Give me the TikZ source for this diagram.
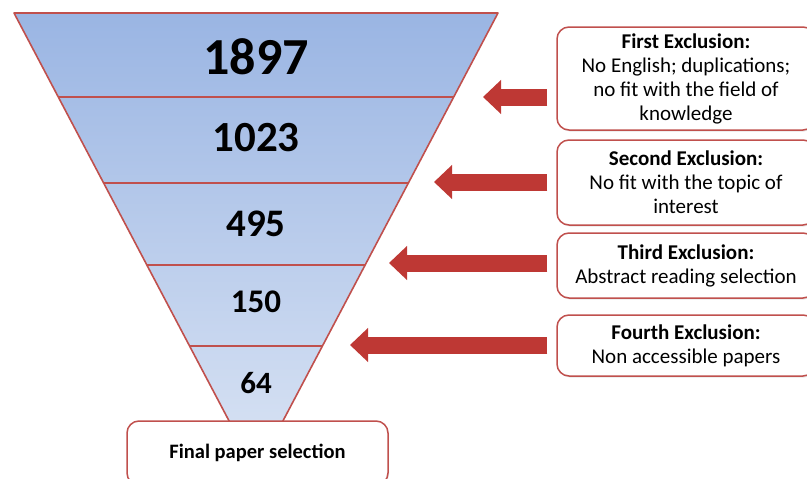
\documentclass[tikz,border=0pt]{standalone}
\usepackage{fontspec}
\setmainfont{Carlito}
\usepackage{xcolor}
\usetikzlibrary{positioning,calc,arrows.meta,shadows}

\definecolor{funneltop}{RGB}{154,181,227}
\definecolor{funnelbot}{RGB}{218,228,244}
\definecolor{edgered}{RGB}{192,80,77}
\definecolor{arrowred}{RGB}{190,56,52}

\begin{document}
\begin{tikzpicture}[x=1pt,y=-1pt,
    sepline/.style={draw=edgered, line width=1.6pt},
    layer/.style={font=\bfseries\fontsize{#1}{#1}\selectfont, inner sep=0pt},
    exclbox/.style={draw=edgered, line width=1.5pt, rounded corners=12pt, fill=white,
        minimum width=258pt, align=center, font=\fontsize{21}{24}\selectfont,
        drop shadow={shadow xshift=1pt, shadow yshift=-1.5pt, opacity=0.2}},
    exclarrow/.style={draw=arrowred, line width=17pt, -{Triangle[length=18pt,width=33pt]}}]

    \useasboundingbox (0,0) rectangle (807,479);

    % Funnel
    \coordinate (tl) at (14,13);
    \coordinate (tr) at (498,13);
    \coordinate (apex) at (256,472);
    \shade [top color=funneltop, bottom color=funnelbot] (tl) -- (tr) -- (apex) -- cycle;
    \draw [sepline] ($(tl)!0.183!(apex)$) -- ($(tr)!0.183!(apex)$);
    \draw [sepline] ($(tl)!0.3704!(apex)$) -- ($(tr)!0.3704!(apex)$);
    \draw [sepline] ($(tl)!0.549!(apex)$) -- ($(tr)!0.549!(apex)$);
    \draw [sepline] ($(tl)!0.7255!(apex)$) -- ($(tr)!0.7255!(apex)$);
    \draw [sepline, line join=round] (tl) -- (tr) -- (apex) -- cycle;

    % Counts
    \node [layer=52] (n1897) at (256,57) {1897};
    \node [layer=43] (n1023) at (256,137.5) {1023};
    \node [layer=39] (n495) at (256,223.5) {495};
    \node [layer=33] (n150) at (256,302) {150};
    \node [layer=31] (n64) at (256,383) {64};

    % Exclusion boxes
    \node [exclbox, minimum height=103pt] (ex1) at (686,78.5)
        {\textbf{First Exclusion:}\\No English; duplications;\\no fit with the field of\\knowledge};
    \node [exclbox, minimum height=85pt] (ex2) at (686,182.5)
        {\textbf{Second Exclusion:}\\No fit with the topic of\\interest};
    \node [exclbox, minimum height=65pt] (ex3) at (686,265.5)
        {\textbf{Third Exclusion:}\\Abstract reading selection};
    \node [exclbox, minimum height=61pt] (ex4) at (686,345.5)
        {\textbf{Fourth Exclusion:}\\Non accessible papers};

    % Final box
    \node [exclbox, minimum width=261pt, minimum height=64pt,
        font=\bfseries\fontsize{20.5}{24}\selectfont] (final) at (257.5,453) {Final paper selection};

    % Arrows
    \coordinate (tip1) at (483,97);
    \coordinate (tip2) at (434,182);
    \coordinate (tip3) at (389,263);
    \coordinate (tip4) at (350,345);
    \draw [exclarrow] ($(ex1.west |- tip1)+(-9,0)$) -- (tip1);
    \draw [exclarrow] ($(ex2.west |- tip2)+(-9,0)$) -- (tip2);
    \draw [exclarrow] ($(ex3.west |- tip3)+(-9,0)$) -- (tip3);
    \draw [exclarrow] ($(ex4.west |- tip4)+(-9,0)$) -- (tip4);
\end{tikzpicture}
\end{document}
